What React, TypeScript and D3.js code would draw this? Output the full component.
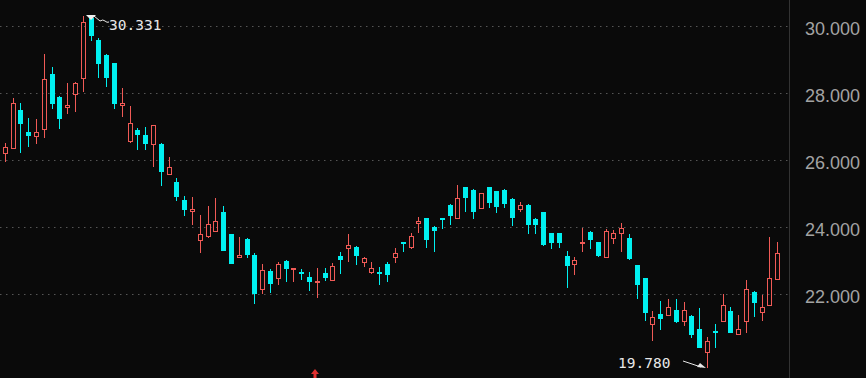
import React from "react";
import * as d3 from "d3";

const opens = [26.21,26.34,27.49,26.82,26.72,26.92,28.57,27.89,27.59,27.96,28.45,30.23,29.58,29.13,28.89,27.64,26.55,26.90,26.73,26.47,26.46,25.58,25.34,24.80,24.48,23.60,23.73,23.87,24.45,23.77,23.10,23.63,23.15,22.12,22.68,22.47,22.98,22.73,22.65,22.50,22.34,22.60,22.40,23.13,23.35,23.40,22.93,22.64,22.64,22.87,23.10,23.53,23.40,24.12,24.25,24.00,24.25,24.65,24.27,25.19,25.10,24.55,25.19,25.07,25.10,24.83,24.52,24.65,24.22,24.43,23.80,23.80,23.13,22.88,23.50,23.85,23.53,23.08,23.65,23.82,23.67,22.85,22.46,21.09,21.38,21.36,21.51,21.18,21.34,20.93,20.24,20.88,21.19,21.48,20.78,21.17,22.05,21.45,21.67,22.44];
const highs = [26.51,27.84,27.70,27.26,27.22,29.15,28.78,27.91,28.31,28.34,30.30,30.331,29.65,29.15,28.90,28.16,27.62,26.94,26.99,27.04,26.49,26.09,25.46,24.93,24.88,24.35,24.62,24.85,24.62,23.77,23.68,23.65,23.20,22.88,22.73,22.95,23.00,22.77,22.73,22.64,22.77,22.77,22.90,23.23,23.77,23.42,23.10,22.95,22.80,22.93,23.35,23.55,23.80,24.30,24.27,24.03,24.27,24.67,25.25,25.19,25.12,25.02,25.19,25.08,25.12,24.85,24.75,24.67,24.25,24.45,23.80,23.80,23.27,23.08,23.95,23.86,23.55,23.94,23.91,24.12,23.77,22.85,22.46,21.48,21.78,21.84,21.84,21.74,21.36,21.56,20.71,21.08,21.98,21.61,21.36,22.40,22.08,21.96,23.70,23.53];
const lows = [25.94,26.32,26.19,26.39,26.46,26.64,27.51,26.91,27.37,27.42,28.04,29.55,28.45,28.17,27.53,27.27,26.49,26.29,26.29,25.79,25.22,25.53,24.77,24.32,24.05,23.20,23.65,23.85,23.26,22.88,23.07,23.05,21.68,21.98,22.01,22.26,22.35,22.34,22.40,22.08,21.86,22.38,22.38,22.58,22.93,22.85,22.80,22.58,22.26,22.34,22.92,23.23,23.33,23.82,23.37,23.23,23.92,24.05,24.25,24.45,24.22,24.55,24.57,24.40,24.57,24.03,24.45,23.78,23.78,23.42,23.32,23.37,22.16,22.55,23.23,23.32,23.10,23.06,23.47,23.23,23.01,21.83,21.19,20.59,20.91,21.34,21.13,21.04,20.68,20.38,19.78,20.38,21.19,20.81,20.78,20.81,21.31,21.17,21.67,22.44];
const closes = [26.38,27.71,27.06,26.72,26.82,28.42,27.67,27.23,27.63,28.31,30.13,29.70,28.86,28.45,27.67,27.71,27.09,26.74,26.47,27.04,25.63,25.78,24.90,24.50,24.53,23.77,24.08,24.17,23.28,22.88,23.15,23.15,21.99,22.70,22.29,22.88,22.73,22.77,22.60,22.34,22.38,22.47,22.83,23.00,23.45,23.13,23.05,22.77,22.61,22.55,23.22,23.47,23.73,24.17,23.60,23.87,24.20,24.33,24.85,24.85,24.45,25.02,24.70,24.58,24.67,24.25,24.65,24.05,24.05,23.44,23.51,23.51,22.83,23.00,23.55,23.60,23.12,23.86,23.82,23.95,23.03,22.26,21.41,21.29,21.23,21.61,21.14,21.51,20.76,20.38,20.58,20.86,21.66,20.81,20.94,22.14,21.71,21.60,22.45,23.21];
const yTicks = [22, 24, 26, 28, 30];
const highLabel = "30.331";
const lowLabel = "19.780";

const W = 866;
const H = 378;
const UP = "#f05a56";
const DOWN = "#00f0f0";

export default function App() {
  const n = opens.length;
  const x = d3.scaleLinear().domain([0, n - 1]).range([4.7, 777.3]);
  const y = d3.scaleLinear().domain([22, 30]).range([293.5, 26]);
  const ry = (v: number) => Math.round(y(v));

  const hiIdx = d3.maxIndex(highs);
  const loIdx = d3.minIndex(lows);
  const hx = Math.round(x(hiIdx));
  const hy = ry(highs[hiIdx]);
  const lx = Math.round(x(loIdx));
  const ly = ry(lows[loIdx]);

  return (
    <svg
      width={W}
      height={H}
      style={{ position: "fixed", left: 0, top: 0, background: "#0a0a0a", display: "block" }}
    >
      <rect x={0} y={0} width={W} height={H} fill="#0a0a0a" />
      {yTicks.map((t) => (
        <g key={t}>
          <line
            x1={0}
            x2={789}
            y1={ry(t) + 0.5}
            y2={ry(t) + 0.5}
            stroke="#555"
            strokeWidth={1}
            strokeDasharray="1.5 4.5"
          />
          <text
            x={805}
            y={ry(t) + 9}
            fill="#a3a3a3"
            fontFamily="Liberation Sans, Arial, sans-serif"
            fontSize={18}
          >
            {d3.format(".3f")(t)}
          </text>
        </g>
      ))}
      <line x1={789.5} x2={789.5} y1={0} y2={H} stroke="#333" strokeWidth={1} />
      {opens.map((o, i) => {
        const c = closes[i];
        const cx = Math.round(x(i));
        const top = ry(Math.max(o, c));
        const bot = ry(Math.min(o, c));
        const hiY = ry(highs[i]);
        const loY = ry(lows[i]);
        const up = c >= o;
        if (up) {
          return (
            <g key={i}>
              {hiY < top && <line x1={cx + 0.5} x2={cx + 0.5} y1={hiY} y2={top} stroke={UP} />}
              {loY > bot && <line x1={cx + 0.5} x2={cx + 0.5} y1={bot} y2={loY} stroke={UP} />}
              <rect
                x={cx - 2 + 0.5}
                y={top + 0.5}
                width={4}
                height={Math.max(bot - top, 1)}
                fill="none"
                stroke={UP}
                strokeWidth={1}
              />
            </g>
          );
        }
        return (
          <g key={i}>
            <line x1={cx + 0.5} x2={cx + 0.5} y1={hiY} y2={loY} stroke={DOWN} />
            <rect x={cx - 2} y={top} width={5} height={Math.max(bot - top, 2)} fill={DOWN} />
          </g>
        );
      })}
      {/* high annotation */}
      <path d={`M${hx - 5},${hy} L${hx + 5},${hy} L${hx},${hy + 5} Z`} fill="#f0f0f0" />
      <path
        d={`M${hx + 3},${hy + 2} L${hx + 3},${hy + 1} L${hx + 9},${hy + 6} Q${hx + 12},${hy + 4} ${hx + 14},${hy + 6} Q${hx + 16},${hy + 8} ${hx + 18},${hy + 7}`}
        fill="none"
        stroke="#e8e8e8"
        strokeWidth={1}
      />
      <text
        x={hx + 18}
        y={hy + 15}
        fill="#e8e8e8"
        fontFamily="DejaVu Sans Mono, monospace"
        fontSize={14.5}
      >
        {highLabel}
      </text>
      {/* low annotation */}
      <text
        x={lx - 89}
        y={ly}
        fill="#e8e8e8"
        fontFamily="DejaVu Sans Mono, monospace"
        fontSize={14.5}
      >
        {lowLabel}
      </text>
      <line x1={lx - 24} y1={ly - 7} x2={lx - 6} y2={ly - 1} stroke="#e8e8e8" strokeWidth={1} />
      <path d={`M${lx - 1},${ly} L${lx - 10},${ly - 1} L${lx - 7},${ly - 5} Z`} fill="#e8e8e8" />
      {/* bottom marker */}
      <path d="M311,374 L319,374 L315,369 Z" fill="#e03030" />
      <rect x={313.5} y={374} width={3} height={4} fill="#e03030" />
    </svg>
  );
}
